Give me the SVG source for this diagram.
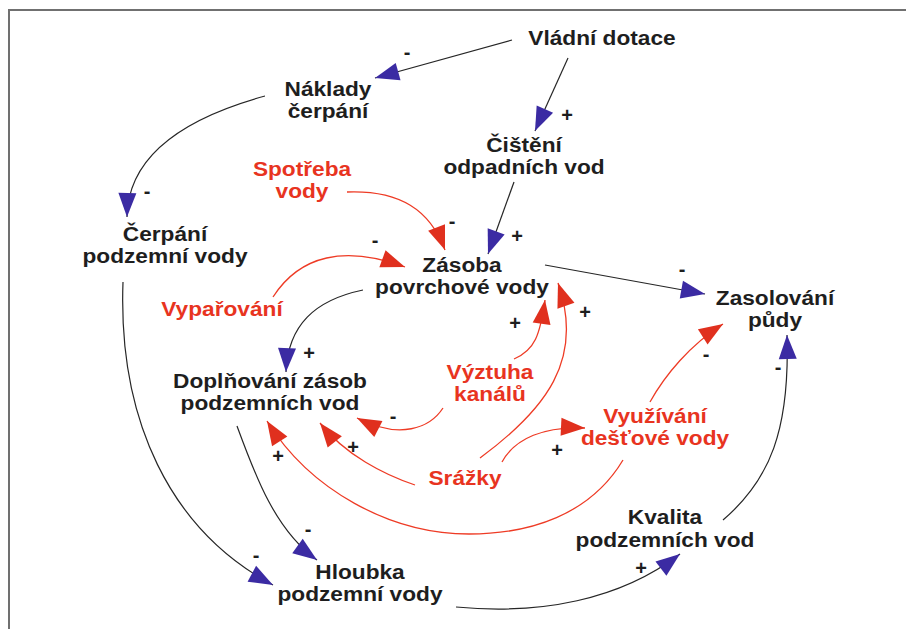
<svg xmlns="http://www.w3.org/2000/svg" width="906" height="629" viewBox="0 0 906 629">
  <style>
    .lbl { font-family: "Liberation Sans", Arial, sans-serif; font-weight: bold; font-size: 21px; text-anchor: middle; }
    .blk { fill: #1e1e1e; }
    .red { fill: #e8341f; }
    .sign { font-family: "Liberation Sans", Arial, sans-serif; font-weight: bold; font-size: 20px; text-anchor: middle; fill: #1e1e1e; }
    .ln { fill: none; stroke: #262626; stroke-width: 1.2; }
    .lr { fill: none; stroke: #ee3b25; stroke-width: 1.3; }
    .ab { marker-end: url(#arrBlue); }
    .ar { marker-end: url(#arrRed); }
  </style>
  <defs>
    <marker id="arrBlue" markerUnits="userSpaceOnUse" markerWidth="26" markerHeight="20" refX="24" refY="9" orient="auto" overflow="visible">
      <path d="M0,0 L24,9 L0,18 Z" fill="#3b2ba3"/>
    </marker>
    <marker id="arrRed" markerUnits="userSpaceOnUse" markerWidth="26" markerHeight="20" refX="24" refY="9" orient="auto" overflow="visible">
      <path d="M0,0 L24,9 L0,18 Z" fill="#e0301e"/>
    </marker>
  </defs>

  <rect width="906" height="629" fill="#ffffff"/>
  <!-- frame -->
  <path d="M9,629 V10 H906" fill="none" stroke="#707070" stroke-width="2"/>

  <!-- connectors -->
  <g id="connectors">
    <path class="ln ab" d="M512,40 L375,78"/>
    <path class="ln ab" d="M568,58 L535,131"/>
    <path class="ln ab" d="M265,96 C185,118 128,155 127,217"/>
    <path class="ln ab" d="M514,182 L488,254"/>
    <path class="lr ar" d="M347,192 C400,190 430,210 445,250"/>
    <path class="lr ar" d="M273,297 C300,255 345,245 405,267"/>
    <path class="ln ab" d="M363,290 C315,300 288,325 286,372"/>
    <path class="lr ar" d="M514,359 C535,350 540,335 545,300"/>
    <path class="lr ar" d="M480,458 C545,410 585,360 558,283"/>
    <path class="lr ar" d="M443,408 C430,428 400,440 357,418"/>
    <path class="lr ar" d="M415,485 C385,475 345,455 320,423"/>
    <path class="lr ar" d="M623,460 C590,515 530,534 469,534 C390,534 310,490 267,421"/>
    <path class="lr ar" d="M502,462 C515,438 545,426 585,428"/>
    <path class="lr ar" d="M650,402 C665,375 690,345 723,324"/>
    <path class="ln ab" d="M545,265 L705,294"/>
    <path class="ln ab" d="M723,520 C770,480 790,430 787,335"/>
    <path class="ln ab" d="M123,282 C118,420 170,530 273,585"/>
    <path class="ln ab" d="M237,426 C255,475 275,530 317,560"/>
    <path class="ln ab" d="M456,607 C540,615 620,600 680,554"/>
  </g>

  <!-- polarity signs -->
  <g id="signs">
    <text class="sign" x="407" y="59">-</text>
    <text class="sign" x="567" y="122">+</text>
    <text class="sign" x="147" y="198">-</text>
    <text class="sign" x="452" y="228">-</text>
    <text class="sign" x="517" y="243">+</text>
    <text class="sign" x="375" y="247">-</text>
    <text class="sign" x="515" y="330">+</text>
    <text class="sign" x="585" y="319">+</text>
    <text class="sign" x="309" y="360">+</text>
    <text class="sign" x="393" y="423">-</text>
    <text class="sign" x="278" y="463">+</text>
    <text class="sign" x="353" y="454">+</text>
    <text class="sign" x="557" y="457">+</text>
    <text class="sign" x="682" y="276">-</text>
    <text class="sign" x="706" y="361">-</text>
    <text class="sign" x="778" y="374">-</text>
    <text class="sign" x="308" y="536">-</text>
    <text class="sign" x="256" y="562">-</text>
    <text class="sign" x="641" y="575">+</text>
  </g>

  <!-- nodes -->
  <g id="vladni-dotace">
    <text class="lbl blk" transform="translate(602 45) scale(1.08 1)">Vládní dotace</text>
  </g>
  <g id="naklady-cerpani">
    <text class="lbl blk" transform="translate(328 96) scale(1.08 1)"><tspan x="0" y="0">Náklady</tspan><tspan x="0" y="22">čerpání</tspan></text>
  </g>
  <g id="cisteni-odpadnich-vod">
    <text class="lbl blk" transform="translate(524 152) scale(1.08 1)"><tspan x="0" y="0">Čištění</tspan><tspan x="0" y="22">odpadních vod</tspan></text>
  </g>
  <g id="spotreba-vody">
    <text class="lbl red" transform="translate(302 176) scale(1.08 1)"><tspan x="0" y="0">Spotřeba</tspan><tspan x="0" y="22">vody</tspan></text>
  </g>
  <g id="cerpani-podzemni-vody">
    <text class="lbl blk" transform="translate(165 241) scale(1.08 1)"><tspan x="0" y="0">Čerpání</tspan><tspan x="0" y="22">podzemní vody</tspan></text>
  </g>
  <g id="zasoba-povrchove-vody">
    <text class="lbl blk" transform="translate(462 272) scale(1.08 1)"><tspan x="0" y="0">Zásoba</tspan><tspan x="0" y="22">povrchové vody</tspan></text>
  </g>
  <g id="vyparovani">
    <text class="lbl red" transform="translate(222 316) scale(1.08 1)">Vypařování</text>
  </g>
  <g id="zasolovani-pudy">
    <text class="lbl blk" transform="translate(775 305) scale(1.08 1)"><tspan x="0" y="0">Zasolování</tspan><tspan x="0" y="22">půdy</tspan></text>
  </g>
  <g id="doplnovani-zasob">
    <text class="lbl blk" transform="translate(270 388) scale(1.08 1)"><tspan x="0" y="0">Doplňování zásob</tspan><tspan x="0" y="22">podzemních vod</tspan></text>
  </g>
  <g id="vyztuha-kanalu">
    <text class="lbl red" transform="translate(490 379) scale(1.08 1)"><tspan x="0" y="0">Výztuha</tspan><tspan x="0" y="22">kanálů</tspan></text>
  </g>
  <g id="vyuzivani-destove-vody">
    <text class="lbl red" transform="translate(655 423) scale(1.08 1)"><tspan x="0" y="0">Využívání</tspan><tspan x="0" y="22">dešťové vody</tspan></text>
  </g>
  <g id="srazky">
    <text class="lbl red" transform="translate(465 485) scale(1.08 1)">Srážky</text>
  </g>
  <g id="kvalita-podzemnich-vod">
    <text class="lbl blk" transform="translate(665 524) scale(1.08 1)"><tspan x="0" y="0">Kvalita</tspan><tspan x="0" y="23">podzemních vod</tspan></text>
  </g>
  <g id="hloubka-podzemni-vody">
    <text class="lbl blk" transform="translate(360 579) scale(1.08 1)"><tspan x="0" y="0">Hloubka</tspan><tspan x="0" y="22">podzemní vody</tspan></text>
  </g>
</svg>
